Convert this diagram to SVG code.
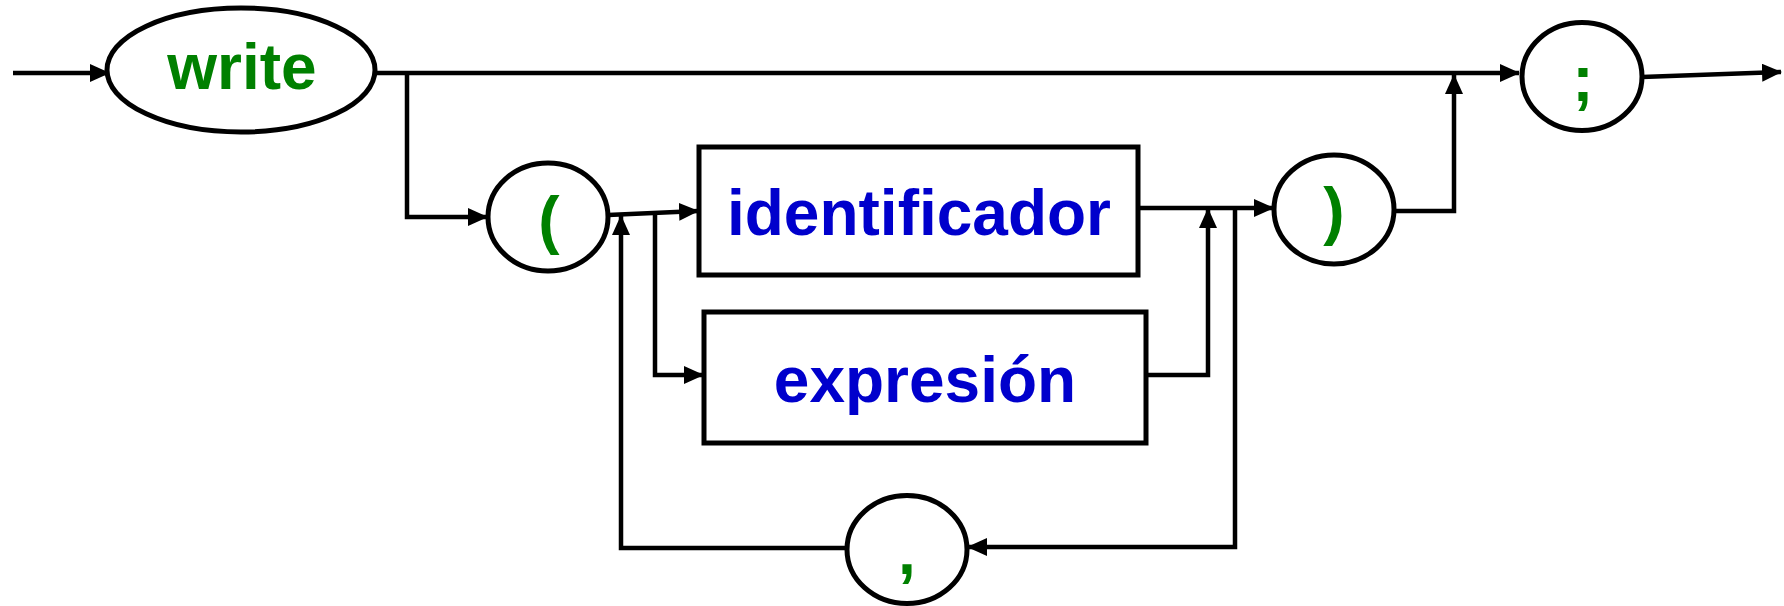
<svg xmlns="http://www.w3.org/2000/svg" width="1784" height="606" viewBox="0 0 1784 606">
<style>
.sh{fill:#fff;stroke:#000;stroke-width:5}
.ln{fill:none;stroke:#000;stroke-width:4.5;stroke-linejoin:miter}
.t{font-family:"Liberation Sans",Arial,sans-serif;font-weight:bold;font-size:64px;text-anchor:middle}
.p{font-weight:normal;font-size:70px}
.g{fill:#008000}
.b{fill:#0000CC}
</style>
<defs>
<marker id="ah" markerUnits="userSpaceOnUse" markerWidth="20" markerHeight="18" refX="19" refY="9" orient="auto" viewBox="0 0 20 18">
<path d="M0,0 L20,9 L0,18 z" fill="#000"/>
</marker>
</defs>
<g id="connectors" class="ln" marker-end="url(#ah)">
<path d="M13,73 L109,73"/>
<path d="M375,73 L1519,73"/>
<path d="M407,73 L407,217 L487,217"/>
<path d="M608,215 L698,211"/>
<path d="M655,214 L655,375 L703,375"/>
<path d="M1138,208 L1273,208"/>
<path d="M1146,375 L1208,375 L1208,209"/>
<path d="M1235,208 L1235,547 L968,547"/>
<path d="M847,548 L621,548 L621,216"/>
<path d="M1394,211 L1454,211 L1454,75"/>
<path d="M1642,77 L1781,72"/>
</g>
<g id="write">
<ellipse class="sh" cx="241" cy="70" rx="134" ry="62"/>
<text class="t g" x="242" y="89">write</text>
</g>
<g id="lparen">
<ellipse class="sh" cx="548" cy="217" rx="60" ry="54"/>
<text class="t g" x="549" y="242">(</text>
</g>
<g id="identificador">
<rect class="sh" x="699" y="147" width="439" height="128"/>
<text class="t b" x="919" y="235">identificador</text>
</g>
<g id="expresion">
<rect class="sh" x="704" y="312" width="442" height="131"/>
<text class="t b" x="925" y="402">expresión</text>
</g>
<g id="rparen">
<ellipse class="sh" cx="1334" cy="209.5" rx="60" ry="54.5"/>
<text class="t g" x="1334" y="233">)</text>
</g>
<g id="comma">
<ellipse class="sh" cx="907" cy="549.5" rx="60" ry="54"/>
<text class="t g" x="907" y="574">,</text>
</g>
<g id="semicolon">
<ellipse class="sh" cx="1582" cy="76.5" rx="60" ry="54"/>
<text class="t g" x="1583" y="101">;</text>
</g>
</svg>
